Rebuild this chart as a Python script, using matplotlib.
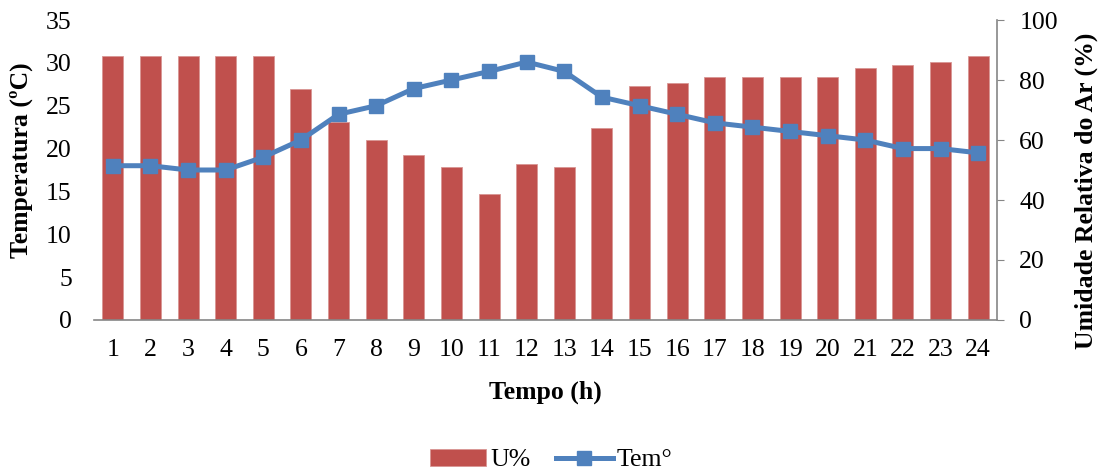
import numpy as np
import matplotlib.pyplot as plt

plt.rcParams['font.family'] = ['Liberation Serif', 'DejaVu Serif']

# data
hours = list(range(1, 25))
umidade = [88, 88, 88, 88, 88, 77, 66, 60, 55, 51, 42, 52,
           51, 64, 78, 79, 81, 81, 81, 81, 84, 85, 86, 88]
temperatura = [18.0, 18.0, 17.5, 17.5, 19.0, 21.0, 24.0, 25.0, 27.0, 28.0, 29.0, 30.1,
               29.0, 26.0, 25.0, 24.0, 23.0, 22.5, 22.0, 21.5, 21.0, 20.0, 20.0, 19.5]

bar_color = '#C0504D'
line_color = '#4F81BD'
fs = 18.5
x = np.arange(len(hours))

fig = plt.figure(figsize=(11.02, 4.73), dpi=100)
ax = fig.add_axes([94 / 1102, 1 - 320 / 473, (997 - 94) / 1102, 300 / 473])
ax2 = ax.twinx()

bars = ax2.bar(x, umidade, width=0.56, color=bar_color, edgecolor='#D99694', linewidth=0.6, label='U%')
ax2.set_ylim(0, 100)
ax2.set_yticks(range(0, 101, 20))

line, = ax.plot(x, temperatura, color=line_color, lw=3.6, marker='s', markersize=10,
                label='Tem°')
ax.set_ylim(0, 35)
ax.set_yticks(range(0, 36, 5))
ax.set_xlim(-0.5, len(hours) - 0.5)
ax.set_xticks(x)
ax.set_xticklabels(hours)

ax.set_zorder(ax2.get_zorder() + 1)
ax.patch.set_visible(False)

for a in (ax, ax2):
    for s in a.spines.values():
        s.set_visible(False)
ax.spines['bottom'].set_visible(True)
ax.spines['bottom'].set_color('#868686')
ax.spines['bottom'].set_linewidth(1.2)
ax2.spines['right'].set_visible(True)
ax2.spines['right'].set_color('#868686')
ax2.spines['right'].set_linewidth(1.2)

ax.tick_params(axis='y', length=0, labelsize=fs, pad=16)
ax.tick_params(axis='x', length=0, labelsize=fs, pad=14)
ax2.tick_params(axis='y', length=5, color='#868686', labelsize=fs, pad=11)

ax.set_xlabel('Tempo (h)', fontsize=fs, fontweight='bold', labelpad=14)
ax.set_ylabel('Temperatura (ºC)', fontsize=fs, fontweight='bold')
ax2.set_ylabel('Umidade Relativa do Ar (%)', fontsize=fs, fontweight='bold')
ax.yaxis.set_label_coords(-0.0676, 0.533)
ax2.yaxis.set_label_coords(1.086, 0.43)

fig.legend(handles=[bars, line], loc='center', bbox_to_anchor=(0.5, 1 - 460 / 473),
           ncol=2, frameon=False, fontsize=fs, handlelength=2.2, handletextpad=0.15,
           columnspacing=1.0)

fig.savefig('out.png', dpi=100)
